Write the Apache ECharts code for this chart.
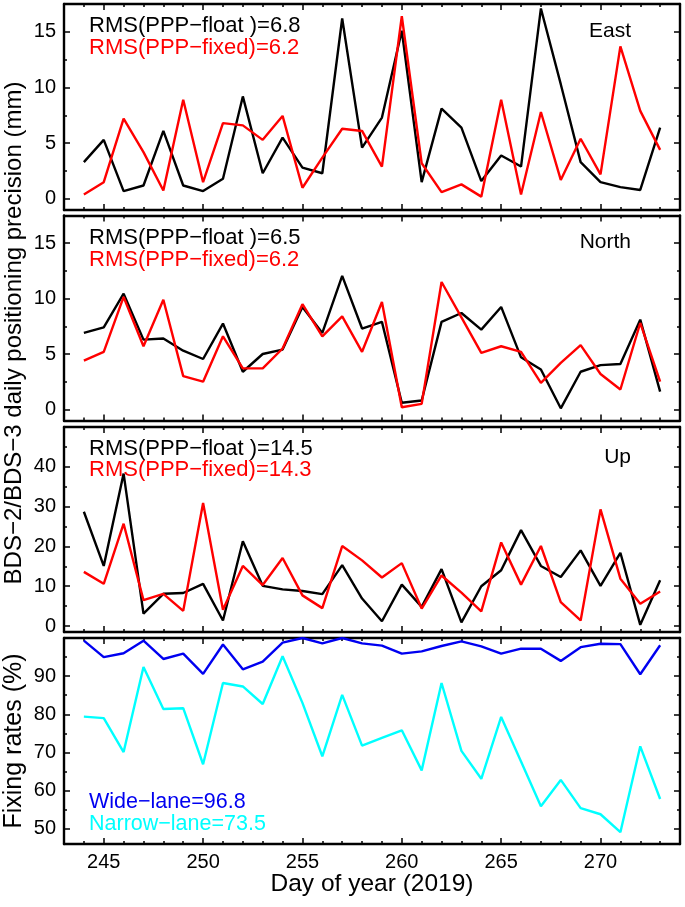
<!DOCTYPE html>
<html>
<head>
<meta charset="utf-8">
<script src="https://cdn.jsdelivr.net/npm/echarts/dist/echarts.min.js"></script>
<style>html,body{margin:0;padding:0;background:#fff;}#c{width:685px;height:907px;}</style>
</head>
<body>
<div id="c"></div>
<script>
// ---- data ----
const days = [244,245,246,247,248,249,250,251,252,253,254,255,256,257,258,259,260,261,262,263,264,265,266,267,268,269,270,271,272,273];
const eastFloat  = [3.3,5.3,0.7,1.2,6.1,1.2,0.7,1.8,9.2,2.3,5.5,2.8,2.3,16.2,4.6,7.3,15.1,1.5,8.1,6.4,1.6,3.9,2.9,17.1,10.3,3.3,1.5,1.05,0.8,6.4];
const eastFixed  = [0.4,1.5,7.2,4.2,0.75,8.9,1.5,6.8,6.6,5.3,7.45,1.0,3.7,6.3,6.1,2.9,16.4,3.2,0.6,1.3,0.2,8.9,0.4,7.8,1.7,5.4,2.2,13.7,7.9,4.4];
const northFloat = [6.9,7.4,10.45,6.3,6.4,5.3,4.55,7.75,3.4,5.0,5.4,9.25,6.9,12.05,7.3,7.9,0.6,0.8,7.9,8.7,7.2,9.25,4.7,3.6,0.1,3.4,4.0,4.1,8.1,1.6];
const northFixed = [4.4,5.2,10.15,5.7,9.9,3.0,2.5,6.6,3.7,3.7,5.5,9.5,6.6,8.4,5.2,9.7,0.2,0.5,11.5,8.3,5.1,5.7,5.2,2.4,4.2,5.8,3.2,1.8,7.8,2.5];
const upFloat    = [28.7,15.1,38.3,3.1,8.1,8.3,10.6,1.4,21.3,10.1,9.2,8.8,8.0,15.3,6.9,1.2,10.4,4.8,14.3,0.9,10.0,14.0,24.1,15.1,12.3,19.0,10.1,18.4,0.3,11.5];
const upFixed    = [13.6,10.6,25.7,6.5,8.1,3.8,30.9,4.1,15.1,10.3,17.1,7.7,4.5,20.1,16.5,12.2,15.8,4.4,12.7,8.4,3.7,21.0,10.4,20.1,6.0,1.4,29.3,11.9,5.6,8.7];
const wideLane   = [99.3,95.0,96.0,99.3,94.5,95.9,90.6,98.3,91.8,93.8,98.8,100,98.6,100,98.6,98.0,95.9,96.5,97.9,99.1,97.8,95.9,97.2,97.2,94.0,97.6,98.5,98.4,90.5,98.1];
const narrowLane = [79.4,79.0,70.1,92.4,81.4,81.6,66.9,88.2,87.3,82.7,95.2,83.0,69.0,85.1,71.8,73.8,75.8,65.3,88.2,70.4,63.1,79.3,67.6,55.9,62.8,55.4,53.8,49.1,71.6,57.8];
const xTickLabels = [245,250,255,260,265,270];
const yTicks1 = [0,5,10,15];
const yTicks2 = [0,5,10,15];
const yTicks3 = [0,10,20,30,40];
const yTicks4 = [50,60,70,80,90];
const legendTexts = [
  ['RMS(PPP\u2212float )=6.8','RMS(PPP\u2212fixed)=6.2'],
  ['RMS(PPP\u2212float )=6.5','RMS(PPP\u2212fixed)=6.2'],
  ['RMS(PPP\u2212float )=14.5','RMS(PPP\u2212fixed)=14.3'],
  ['Wide\u2212lane=96.8','Narrow\u2212lane=73.5']
];
const panelNames = ['East','North','Up'];

// ---- layout ----
const FONT = 'Liberation Sans, Arial, Helvetica, sans-serif';
const L = 64, W = 616;
const gridsPos = [[4,206],[215.5,205],[427,205],[638,206]];
const yRanges = [[-1,17.5],[-1,17.5],[-1.5,50],[46,100]];
const yMajor = [yTicks1,yTicks2,yTicks3,yTicks4];
const yMinorStep = [2.5,2.5,5,5];

const xMinor = days.filter(d => d % 5 !== 0);
const grid = [], xAxis = [], yAxis = [], series = [];
const axisColor = '#000';

function mkX(g, pos, major, labels) {
  return {
    type:'value', gridIndex:g, min:243, max:274, position:pos,
    axisLine:{show:major, onZero:false, lineStyle:{color:axisColor,width:2.4}},
    axisTick:{show:true, inside:true, length: major?6:3, customValues: major?xTickLabels:xMinor, lineStyle:{color:axisColor,width:1.5}},
    axisLabel:{show:labels, customValues:xTickLabels, fontSize:20, color:'#000', fontFamily:FONT, margin:8},
    splitLine:{show:false}
  };
}
function mkY(g, pos, major, labels) {
  const [mn,mx] = yRanges[g];
  const maj = yMajor[g];
  const minor = maj.map(v => v + yMinorStep[g]).filter(v => v < mx);
  return {
    type:'value', gridIndex:g, min:mn, max:mx, position:pos,
    axisLine:{show:major, onZero:false, lineStyle:{color:axisColor,width:2.4}},
    axisTick:{show:true, inside:true, length: major?6:3, customValues: major?maj:minor, lineStyle:{color:axisColor,width:1.5}},
    axisLabel:{show:labels, customValues:maj, fontSize:20, color:'#000', fontFamily:FONT, margin:8},
    splitLine:{show:false}
  };
}

const xIdx = [], yIdx = [];
gridsPos.forEach((p,g) => {
  grid.push({left:L, top:p[0], width:W, height:p[1], containLabel:false});
  xIdx.push(xAxis.length);
  xAxis.push(mkX(g,'bottom',true,g===3));
  xAxis.push(mkX(g,'bottom',false,false));
  xAxis.push(mkX(g,'top',true,false));
  xAxis.push(mkX(g,'top',false,false));
  yIdx.push(yAxis.length);
  yAxis.push(mkY(g,'left',true,true));
  yAxis.push(mkY(g,'left',false,false));
  yAxis.push(mkY(g,'right',true,false));
  yAxis.push(mkY(g,'right',false,false));
});

function pairs(vals){ return days.map((d,i)=>[d, vals[i]]); }
function addLine(g, vals, color){
  series.push({type:'line', xAxisIndex:xIdx[g], yAxisIndex:yIdx[g], data:pairs(vals),
    showSymbol:false, symbol:'none', smooth:false, animation:false,
    lineStyle:{color:color, width:2.4}, itemStyle:{color:color}});
}
addLine(0, eastFloat, '#000000'); addLine(0, eastFixed, '#ff0000');
addLine(1, northFloat, '#000000'); addLine(1, northFixed, '#ff0000');
addLine(2, upFloat, '#000000'); addLine(2, upFixed, '#ff0000');
addLine(3, wideLane, '#0000f0'); addLine(3, narrowLane, '#00ffff');

// ---- texts ----
const graphic = [];
function txt(t, x, y, size, color, align, rot){
  graphic.push({type:'text', x:x, y:y, rotation:rot||0, z:100,
    style:{text:t, fill:color, font: size+'px '+FONT, textAlign:align, align:align, textVerticalAlign:'middle', verticalAlign:'middle'}});
}
const legY = [[26,48],[238,260],[449,469.5],[802,824]];
const legColors = [['#000','#ff0000'],['#000','#ff0000'],['#000','#ff0000'],['#0000f0','#00ffff']];
const legSize = [22,22,22,21.5];
legendTexts.forEach((pair,g)=>{
  txt(pair[0], 89, legY[g][0], legSize[g], legColors[g][0], 'left');
  txt(pair[1], 89, legY[g][1], legSize[g], legColors[g][1], 'left');
});
const nameY = [31,242,457];
panelNames.forEach((n,g)=> txt(n, 631, nameY[g], 21, '#000', 'right'));
txt('BDS\u22122/BDS\u22123 daily positioning precision (mm)', 14, 333, 24, '#000', 'center', Math.PI/2);
txt('Fixing rates (%)', 14, 741, 25, '#000', 'center', Math.PI/2);
txt('Day of year (2019)', 372, 884, 24.5, '#000', 'center');

const chart = echarts.init(document.getElementById('c'), null, {renderer:'canvas'});
chart.setOption({animation:false, backgroundColor:'#fff', grid, xAxis, yAxis, series, graphic});
</script>
</body>
</html>
